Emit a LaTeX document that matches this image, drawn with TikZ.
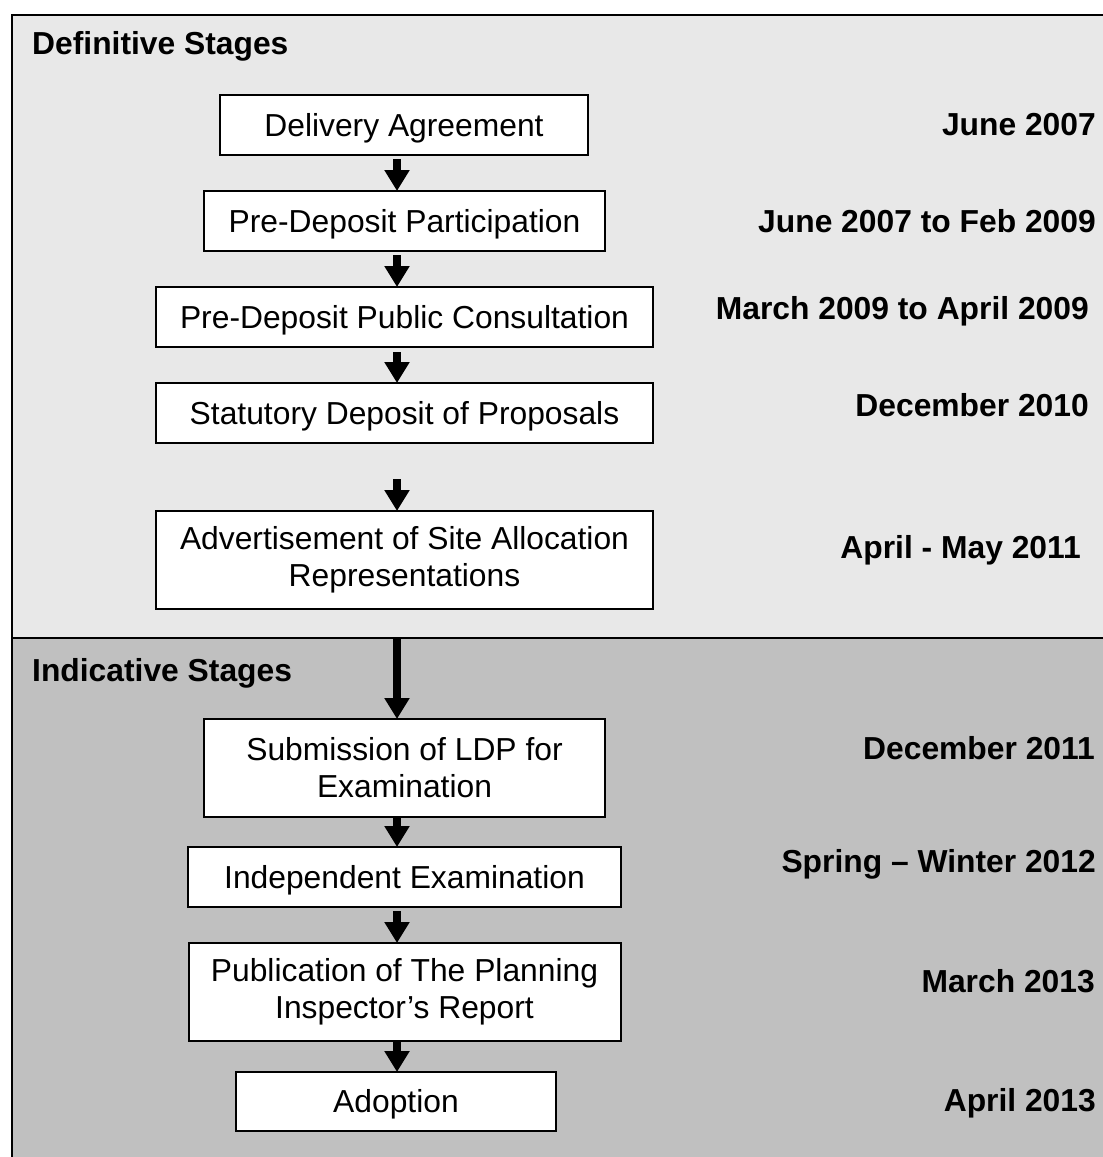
\documentclass[tikz,border=0pt]{standalone}
\usepackage{fontspec}
\setmainfont{Liberation Sans}
\usetikzlibrary{arrows.meta,calc}
\definecolor{lightbg}{HTML}{E8E8E8}
\definecolor{darkbg}{HTML}{C0C0C0}
\begin{document}
\begin{tikzpicture}[x=1pt,y=-1pt,
  stagebox/.style={draw=black, fill=white, line width=2pt, inner sep=0pt, outer sep=0pt, font=\fontsize{31.8}{37}\selectfont},
  onebox/.style={stagebox, text height=22.8pt, text depth=0pt},
  twobox/.style={stagebox, align=center},
  datelbl/.style={anchor=east, inner sep=0pt, font=\bfseries\fontsize{31.8}{37}\selectfont, text height=22.8pt, text depth=0pt},
  hdr/.style={anchor=west, inner sep=0pt, font=\bfseries\fontsize{31.8}{37}\selectfont, text height=22.8pt, text depth=0pt},
  arr/.style={line width=8.3pt, -{Triangle[width=24pt,length=21pt]}},
  panel/.style={line width=2pt, draw=black}]
\useasboundingbox (0,0) rectangle (1103,1157);
\fill[white] (0,0) rectangle (1103,1157);
\begin{scope}
  \clip (0,0) rectangle (1103,1157);
  \draw[panel, fill=lightbg] (11.5,14.5) rectangle (1120,638);
  \draw[panel, fill=darkbg] (11.5,638) rectangle (1120,1175);
\end{scope}
% headers
\node[hdr] (h1) at (32,43.5) {Definitive Stages};
\node[hdr] (h2) at (32,670) {Indicative Stages};
% stage boxes
\node[onebox, minimum width=368pt, minimum height=60pt] (b1) at (404,125) {Delivery Agreement};
\node[onebox, minimum width=401pt, minimum height=60pt] (b2) at (404.5,221) {Pre-Deposit Participation};
\node[onebox, minimum width=497pt, minimum height=60pt] (b3) at (404.5,317) {Pre-Deposit Public Consultation};
\node[onebox, minimum width=497pt, minimum height=60pt] (b4) at (404.5,413) {Statutory Deposit of Proposals};
\node[twobox, minimum width=497pt, minimum height=98pt] (b5) at (404.5,560) {Advertisement of Site Allocation\\Representations};
\node[twobox, minimum width=401pt, minimum height=98pt] (b6) at (404.5,768) {Submission of LDP for\\Examination};
\node[onebox, minimum width=433pt, minimum height=60pt] (b7) at (404.5,877) {Independent Examination};
\node[twobox, minimum width=432pt, minimum height=98pt] (b8) at (404.5,992) {Publication of The Planning\\Inspector’s Report};
\node[onebox, minimum width=320pt, minimum height=59pt] (b9) at (396,1101.5) {Adoption};
% arrows
\coordinate (ax) at (397,0);
\draw[arr] ($(b1.south -| ax)+(0,4)$) -- (b2.north -| ax);
\draw[arr] ($(b2.south -| ax)+(0,4)$) -- (b3.north -| ax);
\draw[arr] ($(b3.south -| ax)+(0,5)$) -- (b4.north -| ax);
\draw[arr] ($(b4.south -| ax)+(0,36)$) -- (b5.north -| ax);
\draw[arr] ($(b5.south -| ax)+(0,29)$) -- (b6.north -| ax);
\draw[arr] (b6.south -| ax) -- (b7.north -| ax);
\draw[arr] ($(b7.south -| ax)+(0,4)$) -- (b8.north -| ax);
\draw[arr] (b8.south -| ax) -- (b9.north -| ax);
% dates
\node[datelbl] (d1) at (1096,124) {June 2007};
\node[datelbl] (d2) at (1096,221) {June 2007 to Feb 2009};
\node[datelbl] (d3) at (1089,308) {March 2009 to April 2009};
\node[datelbl] (d4) at (1089,405) {December 2010};
\node[datelbl] (d5) at (1081,547.5) {April - May 2011};
\node[datelbl] (d6) at (1095,748) {December 2011};
\node[datelbl] (d7) at (1096,861) {Spring – Winter 2012};
\node[datelbl] (d8) at (1095,981) {March 2013};
\node[datelbl] (d9) at (1096,1100) {April 2013};
\end{tikzpicture}
\end{document}
